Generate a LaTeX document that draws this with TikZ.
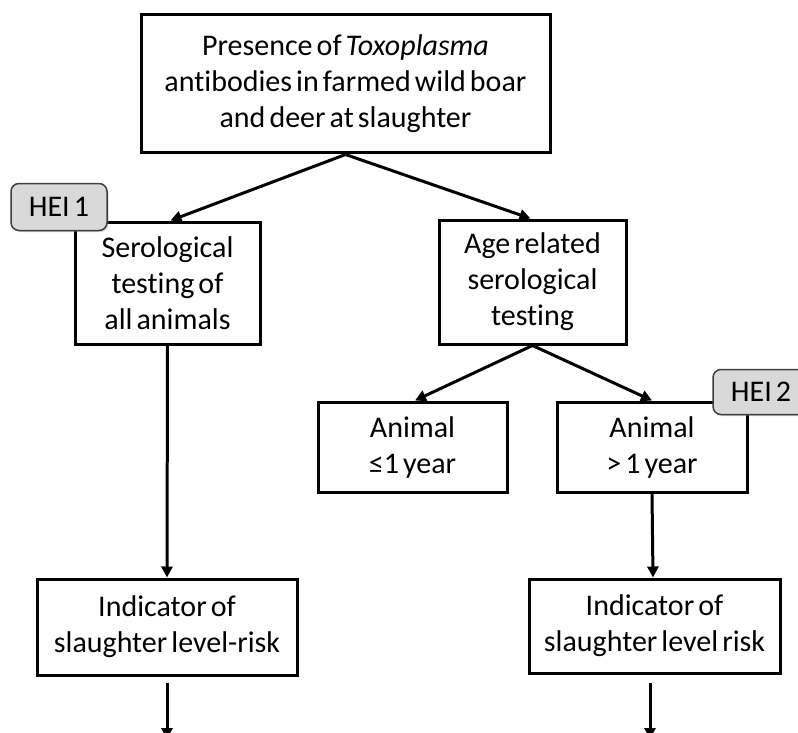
\documentclass[tikz,border=0pt]{standalone}
\usepackage{fontspec}
\setmainfont{Carlito}[WordSpace=0.6,Ligatures=NoCommon]
\usetikzlibrary{arrows.meta,shadows}
\definecolor{badgefill}{HTML}{D9D9D9}
\definecolor{badgeline}{HTML}{404040}
\tikzset{
  box/.style={draw=black, line width=3pt, fill=white, inner sep=0pt, align=center,
    font=\fontsize{30}{36}\selectfont},
  badge/.style={draw=badgeline, line width=1.5pt, fill=badgefill, rounded corners=8pt,
    inner sep=0pt, minimum width=96pt, minimum height=47pt,
    font=\fontsize{30}{34}\selectfont},
  badgeshadow/.style={badge, draw=none, fill=gray, opacity=0.35},
  arr/.style={line width=3pt, -{Triangle[length=11pt,width=11pt]}},
}
\begin{document}
\begin{tikzpicture}[x=1pt,y=-1pt]
\useasboundingbox (0,0) rectangle (798,733);
\fill[white] (0,0) rectangle (798,733);

\node[box, minimum width=409pt, minimum height=138pt] (top) at (345.5,84)
  {Presence of \textit{Toxoplasma}\\antibodies in farmed wild boar\\and deer at slaughter};
\node[box, minimum width=185pt, minimum height=122pt] (ser) at (167.5,283)
  {Serological\\testing of\\all animals};
\node[box, minimum width=187pt, minimum height=124pt] (age) at (532.5,282)
  {Age related\\serological\\testing};
\node[box, minimum width=189pt, minimum height=90pt] (young) at (412.5,447)
  {Animal\\≤1 year};
\node[box, minimum width=190pt, minimum height=90pt] (old) at (652,447)
  {Animal\\> 1 year};
\node[box, minimum width=260pt, minimum height=96pt] (ind1) at (167,627)
  {Indicator of\\slaughter level-risk};
\node[box, minimum width=251pt, minimum height=94pt] (ind2) at (654.5,626)
  {Indicator of\\slaughter level risk};

\coordinate (e1a) at (167,683);
\coordinate (e1b) at (167,739);
\coordinate (e2a) at (650,683);
\coordinate (e2b) at (650,739);

\draw[arr] (top.south) -- ([xshift=3pt]ser.north);
\draw[arr] (top.south) -- ([xshift=-2pt]age.north);
\draw[arr] (age.south) -- ([xshift=2.5pt]young.north);
\draw[arr] (age.south) -- (old.north);
\draw[arr] (ser.south) -- (ind1.north);
\draw[arr] (old.south) -- ([xshift=-1.5pt]ind2.north);
\draw[arr] (e1a) -- (e1b);
\draw[arr] (e2a) -- (e2b);

\node[badgeshadow] (sh1) at (60.5,208.5) {};
\node[badge] (hei1) at (59,207) {HEI 1};
\node[badgeshadow, minimum height=45pt] (sh2) at (762.5,393.5) {};
\node[badge, minimum height=45pt] (hei2) at (761,392) {HEI 2};
\end{tikzpicture}
\end{document}
